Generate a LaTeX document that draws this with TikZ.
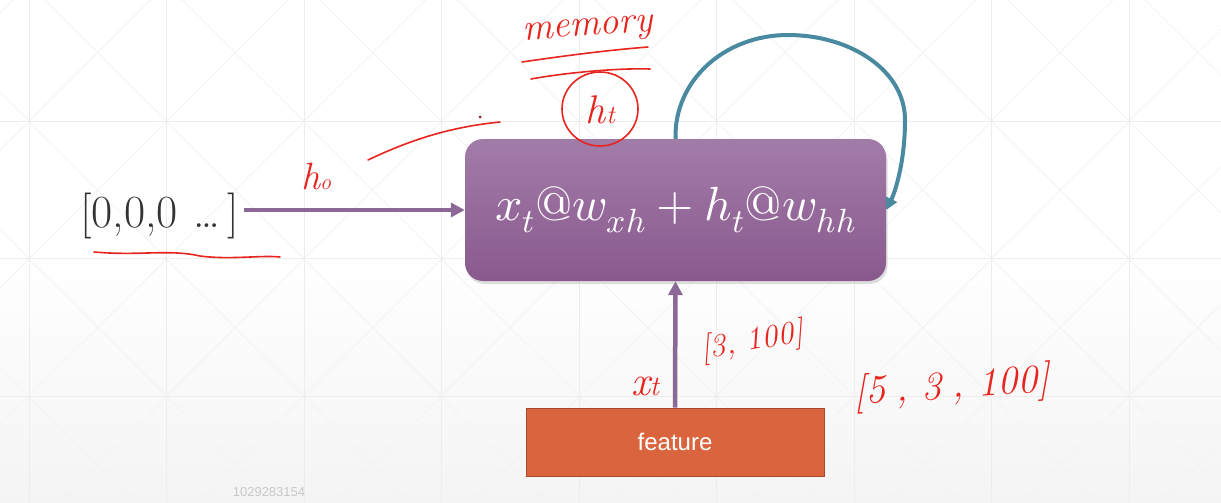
\documentclass[tikz,border=0pt]{standalone}
\usepackage{fontspec}
\usepackage{unicode-math}
\setmathfont{Latin Modern Math}
\usetikzlibrary{arrows.meta,shadows}
\newfontfamily\arialfont{Liberation Sans}
\definecolor{boxtop}{HTML}{A27CA8}
\definecolor{boxbot}{HTML}{89598E}
\definecolor{parrowc}{HTML}{8C6897}
\definecolor{bluec}{HTML}{4A8AA1}
\definecolor{featfill}{HTML}{DA643D}
\definecolor{featdraw}{HTML}{A84A2B}
\definecolor{handred}{HTML}{E8241E}
\definecolor{darktext}{HTML}{333333}
\definecolor{numgray}{HTML}{C8C8C8}
\definecolor{gridc}{HTML}{EDEDED}
\definecolor{diagc}{HTML}{F3F3F3}
\definecolor{bgbot}{HTML}{F4F4F4}
\tikzset{
  mainbox/.style={rounded corners=18pt, minimum width=421pt, minimum height=142pt,
    top color=boxtop, bottom color=boxbot, draw=none, text=white,
    drop shadow={opacity=0.25, shadow xshift=1.5pt, shadow yshift=-3pt},
    font=\fontsize{48}{54}\selectfont},
  featurebox/.style={minimum width=298pt, minimum height=68pt, fill=featfill,
    draw=featdraw, line width=1pt, text=white, font=\arialfont\fontsize{24}{28}\selectfont},
  parrow/.style={draw=parrowc, line width=4.5pt, -{Triangle[length=14pt,width=14pt]}},
  bluearrow/.style={draw=bluec, line width=4pt, -{Triangle[length=12pt,width=12pt]}},
  handline/.style={draw=handred, line width=1.6pt, line cap=round},
  handtext/.style={text=handred, font=\itshape\fontsize{#1}{#1}\selectfont, inner sep=0pt},
}
\begin{document}
\begin{tikzpicture}[x=1pt,y=-1pt]
\useasboundingbox (0,0) rectangle (1221,503);
\shade[top color=white, bottom color=bgbot, middle color=white] (0,0) rectangle (1221,503);
% faint grid
\begin{scope}
\clip (0,0) rectangle (1221,503);
\foreach \i in {-1,...,8} {
  \foreach \j in {0,...,3} {
    \draw[diagc, line width=0.8pt] (29+137.5*\i,-16+137.5*\j) -- (166.5+137.5*\i,121+137.5*\j);
    \draw[diagc, line width=0.8pt] (29+137.5*\i,121+137.5*\j) -- (166.5+137.5*\i,-16+137.5*\j);
  }
}
\foreach \i in {0,...,8} \draw[gridc, line width=0.8pt] (29+137.5*\i,0) -- (29+137.5*\i,503);
\foreach \j in {121,258.5,396} \draw[gridc, line width=0.8pt] (0,\j) -- (1221,\j);
\end{scope}

% main box
\node[mainbox] (rnn) at (675.5,210) {\raisebox{-7pt}{$x_t@w_{xh} + h_t@w_{hh}$}};
% input zeros
\node[anchor=base west, inner sep=0pt, text=darktext, font=\fontsize{46}{52}\selectfont] (zeros) at (80,227) {[0,0,0\,\,\ldots\,]};
% feature
\node[featurebox] (feat) at (675,442) {feature};

\draw[parrow] ([xshift=4pt]zeros.east |- rnn.west) -- (rnn.west);
\draw[parrow] (feat.north) -- (rnn.south);
\draw[bluearrow] (rnn.north) .. controls (674,80) and (725,35) .. (788,35)
   .. controls (850,35) and (905,70) .. (905,120)
   .. controls (905,160) and (896,190) .. (rnn.east);

% handwritten annotations
\node[handtext=38, rotate=4] (mem) at (588,31) {memory};
\draw[handline] (522,62) .. controls (570,55) and (610,50) .. (648,47);
\draw[handline] (531,79) .. controls (570,72) and (620,68) .. (650,69);
\draw[handline] (600,109) ellipse [x radius=38, y radius=37];
\node[handtext=40] (ht) at (600,110) {h\kern1pt{\fontsize{26}{26}\selectfont t}};
\node[handtext=38] (h0) at (316,177) {h{\fontsize{22}{22}\selectfont o}};
\draw[handline] (368,160) .. controls (410,140) and (450,127) .. (500,122);
\fill[handred!60!black] (480,117) circle (1.5pt);
\draw[handline] (94,252) .. controls (140,256) and (170,249) .. (200,256) .. controls (230,260) and (260,255) .. (280,257);
\node[handtext=42] (xt) at (645,386) {x{\fontsize{28}{28}\selectfont t}};
\node[handtext=32, rotate=10] (s1) at (752,342) {[3, 100]};
\node[handtext=40, rotate=4] (s2) at (952,388) {[5\hspace{10pt}, 3\hspace{10pt}, 100]};

\node[font=\arialfont\fontsize{13}{15}\selectfont, text=numgray] (num) at (269,492) {1029283154};
\end{tikzpicture}
\end{document}
